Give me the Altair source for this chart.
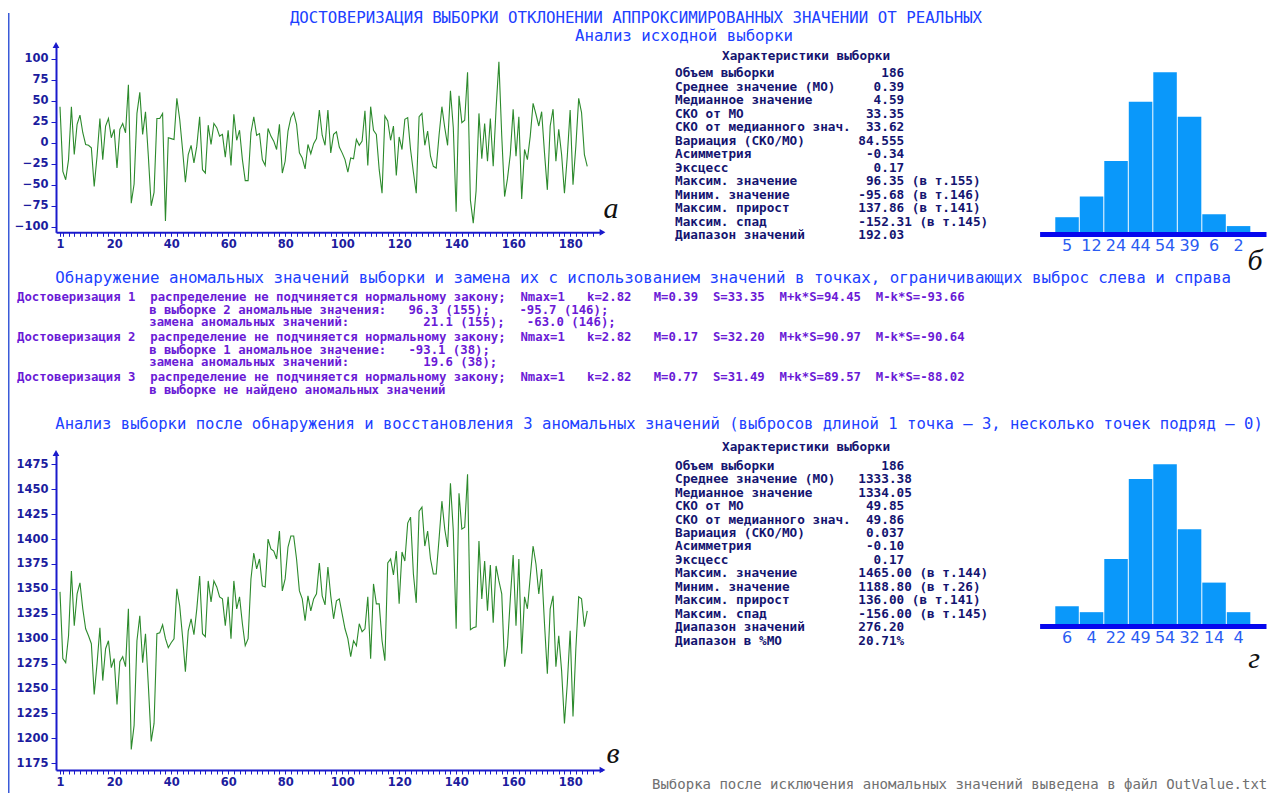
import altair as alt
import pandas as pd

NB = "\u00a0"

# ---------------- data ----------------
top_values = [43, -34, -44, -20, 43, -14, 22, 33, 12, -2,
              -3, -6, -52, -16, 29, -20, 20, 29, 6, 16,
              -30, 16, 23, 12, 69, -72, -49, 35, 60, 10,
              37, -16, -75, -59, 29, 29, 35, -93.1, 6, 5,
              4, 53, 28, -8, -47, -14, -3, -24, -4, 31,
              -32, -36, 21, -2, 23, 18, 8, 10, -17, 15,
              -27, 34, 3, 15, -20, -45, -45, 12, 31, 9,
              11, -20, -27, 17, 8, 2, -8, 22, -36, -22,
              14, 30, 36, 22, -12, -18, -31, -2, -13, -1,
              5, 39, 9, -3, 39, -12, 10, 13, -5, -12,
              -20, -35, -18, -19, 4, -3, 2, 38, -27, 43,
              15, 10, -32, -60, 32, 26, 3, 20, -39, 7,
              -8, 28, 30, -8, -35, -60, 31, 35, -3, 14,
              -16, -28, -30, 9, 43, 18, -3, 62, 18, -82,
              55.86, 24, 27, 84, -68.31, -95.68, -57, 35, -19, 23,
              -22, 29, -28, 40, 96.35, 8, -64, -43, -14, 40,
              -16, 31, -67, -8, -20, 8, 47, 34, 20, 37,
              -12, -56, 20, 40, -22, 16, -14, -60, -16, 39,
              -50, -4, 53, 36, -14, -28]

bottom_values = [1347, 1280, 1276, 1303, 1368, 1313, 1345, 1356, 1330, 1310,
                 1303, 1295, 1244, 1275, 1311, 1258, 1290, 1298, 1271, 1280,
                 1234, 1277, 1282, 1272, 1330, 1188.8, 1213, 1298, 1323, 1276,
                 1305, 1253, 1197, 1215, 1305, 1306, 1314, 1300, 1291, 1296,
                 1300, 1350, 1333, 1302, 1267, 1308, 1320, 1304, 1330, 1363,
                 1305, 1302, 1358, 1337, 1358, 1352, 1342, 1340, 1313, 1342,
                 1300, 1358, 1330, 1342, 1315, 1293, 1300, 1360, 1386, 1370,
                 1380, 1353, 1352, 1400, 1390, 1388, 1380, 1408, 1348, 1360,
                 1392, 1403, 1403, 1380, 1348, 1340, 1318, 1343, 1328, 1340,
                 1345, 1376, 1343, 1334, 1372, 1343, 1320, 1338, 1340, 1325,
                 1310, 1300, 1282, 1298, 1293, 1315, 1307, 1310, 1342, 1280,
                 1355, 1335, 1335, 1298, 1278, 1376, 1380, 1364, 1388, 1335,
                 1387, 1378, 1416, 1422, 1365, 1336, 1428, 1432, 1393, 1408,
                 1380, 1365, 1365, 1400, 1438, 1410, 1392, 1456, 1408, 1310,
                 1446, 1410, 1412, 1465, 1309, 1311, 1312, 1398, 1340, 1378,
                 1328, 1374, 1316, 1373, 1358, 1345, 1272, 1292, 1340, 1384,
                 1313, 1380, 1285, 1342, 1330, 1362, 1393, 1375, 1345, 1370,
                 1315, 1265, 1330, 1343, 1272, 1303, 1268, 1215, 1255, 1308,
                 1222, 1290, 1342, 1340, 1312, 1328]

top_hist_counts = [5, 12, 24, 44, 54, 39, 6, 2]
bottom_hist_counts = [6, 4, 22, 49, 54, 32, 14, 4]

x_tick_labels = [1, 20, 40, 60, 80, 100, 120, 140, 160, 180]
top_y_ticks = [-100, -75, -50, -25, 0, 25, 50, 75, 100]
bottom_y_ticks = [1175, 1200, 1225, 1250, 1275, 1300, 1325, 1350, 1375, 1400, 1425, 1450, 1475]

title_main = "ДОСТОВЕРИЗАЦИЯ ВЫБОРКИ ОТКЛОНЕНИИ АППРОКСИМИРОВАННЫХ ЗНАЧЕНИИ ОТ РЕАЛЬНЫХ"
title_sub = "Анализ исходной выборки"
anomaly_title = ("Обнаружение аномальных значений выборки и замена их с использованием "
                 "значений в точках, ограничивающих выброс слева и справа")
bottom_title = ("Анализ выборки после обнаружения и восстановления 3 аномальных значений "
                "(выбросов длиной 1 точка – 3, несколько точек подряд – 0)")
footer_text = "Выборка после исключения аномальных значений выведена в файл OutValue.txt"
table_header = "Характеристики выборки"

stat_labels = ["Объем выборки", "Среднее значение (МО)", "Медианное значение", "СКО от МО",
               "СКО от медианного знач.", "Вариация (СКО/МО)", "Асимметрия", "Эксцесс",
               "Максим. значение", "Миним. значение", "Максим. прирост", "Максим. спад",
               "Диапазон значений", "Диапазон в %МО"]
top_stat_values = ["186", "0.39", "4.59", "33.35", "33.62", "84.555", "-0.34", "0.17",
                   "96.35", "-95.68", "137.86", "-152.31", "192.03"]
top_stat_points = ["", "", "", "", "", "", "", "", "155", "146", "141", "145", ""]
bottom_stat_values = ["186", "1333.38", "1334.05", "49.85", "49.86", "0.037", "-0.10", "0.17",
                      "1465.00", "1188.80", "136.00", "-156.00", "276.20", "20.71%"]
bottom_stat_points = ["", "", "", "", "", "", "", "", "144", "26", "141", "145", "", ""]

anomaly_lines = [
    "Достоверизация 1  распределение не подчиняется нормальному закону;  Nmax=1   k=2.82   M=0.39  S=33.35  M+k*S=94.45  M-k*S=-93.66",
    "в выборке 2 аномальные значения:   96.3 (155);    -95.7 (146);",
    "замена аномальных значений:          21.1 (155);   -63.0 (146);",
    "Достоверизация 2  распределение не подчиняется нормальному закону;  Nmax=1   k=2.82   M=0.17  S=32.20  M+k*S=90.97  M-k*S=-90.64",
    "в выборке 1 аномальное значение:   -93.1 (38);",
    "замена аномальных значений:          19.6 (38);",
    "Достоверизация 3  распределение не подчиняется нормальному закону;  Nmax=1   k=2.82   M=0.77  S=31.49  M+k*S=89.57  M-k*S=-88.02",
    "в выборке не найдено аномальных значений",
]
anomaly_block = [0, 0, 0, 1, 1, 1, 2, 2]
anomaly_line_in_block = [0, 1, 2, 0, 1, 2, 0, 1]

# ---------------- layout ----------------
W, H = 1267, 785
OFF = 8


def px(x):
    return x - OFF


def py(y):
    return y - OFF


AXIS_BLUE = "#1a1acc"
LABEL_BLUE = "#1c1c9e"
MONO = "DejaVu Sans Mono"

# x mapping shared by both line charts
X_PER = 2.85
X_ZERO = 57.15
X_AX_L, X_AX_R = 56.0, 602.5
XDOM = [(X_AX_L - X_ZERO) / X_PER, (X_AX_R - X_ZERO) / X_PER]
XRANGE = [px(X_AX_L), px(X_AX_R)]
x_tick_values = [1] + list(range(2, 190, 2))
label_list = ",".join(str(v) for v in x_tick_labels)
x_label_expr = f"indexof([{label_list}], datum.value) >= 0 ? datum.label : ''"


def line_panel(values, ydom, y_axis_bottom, y_axis_top, yticks):
    df = pd.DataFrame({"i": list(range(1, len(values) + 1)), "v": values})
    xs = alt.Scale(domain=XDOM, range=XRANGE, nice=False, zero=False)
    ys = alt.Scale(domain=ydom, range=[py(y_axis_bottom), py(y_axis_top)], nice=False, zero=False)
    xaxis = alt.Axis(orient="bottom", offset=py(y_axis_bottom) - H, values=x_tick_values,
                     format="d", labelExpr=x_label_expr, labelOverlap=False, labelFlush=False,
                     domainColor=AXIS_BLUE, domainWidth=2, tickColor=AXIS_BLUE, tickSize=4,
                     tickWidth=1, labelFont="DejaVu Sans", labelFontWeight="bold",
                     labelFontSize=11.5, labelColor=LABEL_BLUE, labelPadding=2,
                     grid=False, title=None)
    yaxis = alt.Axis(orient="left", offset=-XRANGE[0], values=yticks, format="d",
                     labelOverlap=False, labelFlush=False, domainColor=AXIS_BLUE, domainWidth=2,
                     tickColor=AXIS_BLUE, tickSize=5, tickWidth=1,
                     labelFont="DejaVu Sans", labelFontWeight="bold", labelFontSize=11.5,
                     labelColor=LABEL_BLUE, labelPadding=3, grid=False, title=None)
    line = alt.Chart(df).mark_line(color="#2c8a2c", strokeWidth=1.1).encode(
        x=alt.X("i:Q", scale=xs, axis=xaxis),
        y=alt.Y("v:Q", scale=ys, axis=yaxis),
    )
    arrows_df = pd.DataFrame({"i": [XDOM[0], XDOM[1]], "v": [ydom[1], ydom[0]],
                              "shape": ["triangle-up", "triangle-right"]})
    arrows = alt.Chart(arrows_df).mark_point(filled=True, size=45, color=AXIS_BLUE,
                                             opacity=1).encode(
        x=alt.X("i:Q", scale=xs, axis=None),
        y=alt.Y("v:Q", scale=ys, axis=None),
        shape=alt.Shape("shape:N", scale=None, legend=None),
    )
    return line, arrows


# top chart: y(0)=142.8 px, 0.84 px per unit
t_y0, t_k = 142.8, 0.84
TOP_YDOM = [(t_y0 - 232.3) / t_k, (t_y0 - 45.0) / t_k]
top_line, top_arrows = line_panel(top_values, TOP_YDOM, 232.3, 45.0, top_y_ticks)

# bottom chart: y(1475)=464.3 px, 0.9967 px per unit
b_y, b_k = 464.3, 0.9967
BOT_YDOM = [1475 - (770.0 - b_y) / b_k, 1475 + (b_y - 453.0) / b_k]
bottom_line, bottom_arrows = line_panel(bottom_values, BOT_YDOM, 770.0, 453.0, bottom_y_ticks)

HIST_MAX = max(max(top_hist_counts), max(bottom_hist_counts))


def hist_panel(counts, base_center, bar_base, bar_top):
    df = pd.DataFrame({"bin": list(range(len(counts))), "count": counts})
    lab = ",".join(f"'{c}'" for c in counts)
    xs = alt.Scale(range=[px(1039.6), px(1266.0)], paddingInner=0.04, paddingOuter=0.64)
    ys = alt.Scale(domain=[0, HIST_MAX], range=[py(bar_base), py(bar_top)], nice=False)
    xaxis = alt.Axis(orient="bottom", offset=py(base_center) - H, domainColor="#0707ee",
                     domainWidth=5, ticks=False, tickSize=0, labelExpr=f"[{lab}][datum.value]",
                     labelAngle=0, labelFont="DejaVu Sans", labelFontSize=16,
                     labelColor="#2a5cf2", labelPadding=3, grid=False, title=None)
    return alt.Chart(df).mark_bar(color="#0a98fa").encode(
        x=alt.X("bin:O", scale=xs, axis=xaxis),
        y=alt.Y("count:Q", scale=ys, axis=None),
    )


top_hist = hist_panel(top_hist_counts, 234.0, 232.0, 72.3)
bottom_hist = hist_panel(bottom_hist_counts, 626.0, 624.0, 464.3)


def mono_row(label, value, point):
    s = label.ljust(24) + value.rjust(6)
    if point:
        s += " (в т." + point + ")"
    return s.replace(" ", NB)


TABLE_FS = 12.7


def stats_table(values, points, first_row_y, step):
    rows = [mono_row(stat_labels[k], values[k], points[k]) for k in range(len(values))]
    n = len(rows)
    df = pd.DataFrame({"r": list(range(n)), "line": rows})
    ys = alt.Scale(domain=[0, n - 1], range=[py(first_row_y), py(first_row_y + step * (n - 1))],
                   nice=False, zero=False)
    return alt.Chart(df).mark_text(align="left", baseline="middle", font=MONO,
                                   fontWeight="bold", fontSize=TABLE_FS, color="#141470").encode(
        x=alt.value(px(675)),
        y=alt.Y("r:Q", scale=ys, axis=None),
        text="line:N",
    )


top_table = stats_table(top_stat_values, top_stat_points, 73.3, 13.5)
bottom_table = stats_table(bottom_stat_values, bottom_stat_points, 465.7, 13.46)

# anomaly block: first line of each block at column 0, continuation lines at column 18
ANOM_CHAR = 7.35
slots = [b * 3.2 + l for b, l in zip(anomaly_block, anomaly_line_in_block)]
cols = [0 if l == 0 else 18 for l in anomaly_line_in_block]
anom_df = pd.DataFrame({"slot": slots, "col": cols,
                        "line": [s.replace(" ", NB) for s in anomaly_lines]})
anom_y = alt.Scale(domain=[0, 10], range=[py(297.3), py(297.3 + 125)], nice=False, zero=False)
anom_x = alt.Scale(domain=[0, 18], range=[px(17), px(17 + 18 * ANOM_CHAR)], nice=False,
                   zero=False)
anomaly_text = alt.Chart(anom_df).mark_text(align="left", baseline="middle", font=MONO,
                                            fontWeight="bold", fontSize=12.3,
                                            color="#6a1ad6").encode(
    x=alt.X("col:Q", scale=anom_x, axis=None),
    y=alt.Y("slot:Q", scale=anom_y, axis=None),
    text="line:N",
)


def label(text, x, y, align="left", size=15.75, color="#2040ff", font=MONO, weight="normal",
          style="normal"):
    return alt.Chart(pd.DataFrame({"t": [text]})).mark_text(
        align=align, baseline="middle", font=font, fontSize=size, color=color,
        fontWeight=weight, fontStyle=style).encode(
        x=alt.value(px(x)), y=alt.value(py(y)), text="t:N")


annotations = [
    label(title_main, 636, 18, align="center"),
    label(title_sub, 684, 36, align="center"),
    label(anomaly_title, 55.3, 277.7),
    label(bottom_title, 55.3, 424.3, size=15.55),
    label(table_header.replace(" ", NB), 722, 56, size=TABLE_FS, color="#141470", weight="bold"),
    label(table_header.replace(" ", NB), 722, 447.3, size=TABLE_FS, color="#141470",
          weight="bold"),
    label(footer_text, 652, 784.5, size=14, color="#707070"),
    label("а", 611, 209, align="center", size=30, color="#111111", font="Liberation Serif",
          style="italic"),
    label("б", 1255, 261, align="center", size=30, color="#111111", font="Liberation Serif",
          style="italic"),
    label("в", 613, 754, align="center", size=30, color="#111111", font="Liberation Serif",
          style="italic"),
    label("г", 1254, 659, align="center", size=30, color="#111111", font="Liberation Serif",
          style="italic"),
]

border = alt.Chart(pd.DataFrame({"a": [0]})).mark_rule(color="#3a5ad8", strokeWidth=1.5).encode(
    x=alt.value(0.75), y=alt.value(py(13)), y2=alt.value(H))

chart = alt.layer(
    border, top_line, top_arrows, bottom_line, bottom_arrows, top_hist, bottom_hist,
    top_table, bottom_table, anomaly_text, *annotations
).resolve_scale(
    x="independent", y="independent", shape="independent"
).resolve_axis(
    x="independent", y="independent"
).properties(
    width=W, height=H, autosize=alt.AutoSizeParams(type="none"), padding=0,
    background="white"
).configure_view(stroke=None)

chart.save("out.html", embed_options={"renderer": "svg", "actions": False})
